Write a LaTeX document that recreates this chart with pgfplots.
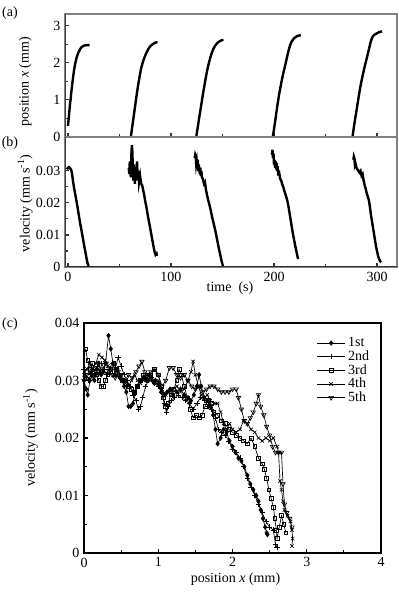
\documentclass[border=0pt]{standalone}
\usepackage{pgfplots}
\pgfplotsset{compat=1.18}
\usepackage{fontspec}
\setmainfont{Liberation Serif}
\begin{document}
\begin{tikzpicture}[font=\fontsize{10.5}{12}\selectfont]
\useasboundingbox (0,0) rectangle (299.25pt,449.25pt);
\pgfplotsset{
  every axis/.append style={
    scale only axis,
    /pgf/number format/assume math mode=true,
    tick label style={font=\fontsize{10.5}{12}\selectfont},
    label style={font=\fontsize{10.5}{12}\selectfont},
    tick align=inside, tick pos=left,
    major tick length=3pt, minor tick length=2.5pt,
  },
  tsstyle/.style={
    axis line style={draw=black!50, line width=1.4pt},
    every tick/.style={black!80, line width=0.8pt},
    xmin=-2.9, xmax=319.4,
    xtick={0,100,200,300}, minor x tick num=1,
  },
}
% ---------------- (a) ----------------
\begin{axis}[tsstyle, at={(48.75pt,346.5pt)}, anchor=south west,
  width=249pt, height=92.25pt,
  ymin=0, ymax=3.32, ytick={0,1,2,3}, minor y tick num=1,
  xticklabels={},
  ylabel={position \textit{x} (mm)},
  ylabel style={at={(axis description cs:-0.12,0.45)}, anchor=center, rotate=0},
]
\draw[black!80, line width=1.2pt] (rel axis cs:0,0) -- (rel axis cs:1,0);
\draw[black!75, line width=1.2pt] (rel axis cs:0,0) -- (rel axis cs:0,1);
\addplot[black, line width=1.8pt, smooth] coordinates {(0,0.3) (0.5,0.45) (1,0.6) (1.5,0.75) (2,0.9) (2.5,1.0) (3,1.15) (4,1.4) (5,1.62) (6,1.82) (7,1.98) (8,2.1) (9,2.2) (10,2.27) (11,2.33) (12,2.38) (13,2.42) (14,2.44) (15,2.46) (16,2.47) (18,2.48) (21,2.48)};
\addplot[black, line width=1.8pt, smooth] coordinates {(61,0) (63,0.4) (65,0.8) (67,1.2) (69,1.55) (71,1.85) (73,2.05) (75,2.2) (77,2.32) (79,2.42) (81,2.48) (83,2.52) (85,2.55) (87,2.56)};
\addplot[black, line width=1.8pt, smooth] coordinates {(124.5,0) (127,0.45) (129,0.8) (131,1.15) (133,1.48) (135,1.78) (137,2.02) (139,2.22) (141,2.37) (143,2.47) (145,2.54) (147,2.58) (149,2.61) (151,2.62)};
\addplot[black, line width=1.8pt, smooth] coordinates {(198.8,0) (201,0.4) (203,0.8) (205,1.15) (207,1.45) (209,1.72) (211,1.95) (213,2.2) (215,2.42) (217,2.57) (219,2.65) (221,2.7) (223,2.73) (226,2.75)};
\addplot[black, line width=1.8pt, smooth] coordinates {(276.2,0) (278,0.35) (280,0.7) (282,1.05) (284,1.38) (286,1.65) (288,1.9) (290,2.12) (292,2.35) (294,2.58) (296,2.72) (298,2.77) (300,2.8) (302,2.83) (305,2.85)};
\end{axis}
% ---------------- (b) ----------------
\begin{axis}[tsstyle, at={(48.75pt,249pt)}, anchor=south west,
  width=249pt, height=97.5pt,
  ymin=0, ymax=0.0406, ytick={0,0.01,0.02,0.03}, minor y tick num=1,
  yticklabel style={/pgf/number format/fixed, /pgf/number format/precision=2},
  scaled y ticks=false,
  ylabel={velocity (mm s\textsuperscript{-1})},
  ylabel style={at={(axis description cs:-0.12,0.49)}, anchor=center},
  xlabel={time\ \ (s)},
  xlabel style={at={(axis description cs:0.497,-0.165)}, anchor=center},
]
\draw[black!80, line width=1.2pt] (rel axis cs:0,0) -- (rel axis cs:1,0);
\draw[black!75, line width=1.2pt] (rel axis cs:0,0) -- (rel axis cs:0,1);
\addplot[black, line width=1.8pt] coordinates {(-1,0.0305) (0,0.031) (1,0.0312) (2,0.0308) (3,0.0305) (4,0.029) (5,0.0265) (6,0.0245) (7,0.0228) (8,0.021) (9,0.0192) (10,0.0172) (11,0.0152) (12,0.0133) (13,0.0117) (14,0.0098) (15,0.008) (16,0.0062) (17,0.0045) (18,0.0027) (19,0.0012) (20,0.0002)};
\addplot[black, line width=1.8pt] coordinates {(59,0.031) (59.5,0.029) (60,0.033) (60.5,0.03) (61,0.028) (61.5,0.035) (62,0.038) (62.5,0.036) (63,0.03) (63.5,0.027) (64,0.032) (64.5,0.029) (65,0.026) (65.5,0.031) (66,0.03) (66.5,0.027) (67,0.033) (67.5,0.029) (68,0.027) (68.5,0.03) (69,0.0265) (70,0.0285) (71,0.026) (72,0.0255) (73,0.024) (74,0.0225) (75,0.0205) (76,0.019) (77,0.017) (78,0.0152) (79,0.0135) (80,0.0118) (81,0.01) (82,0.0082) (83,0.0065) (84,0.0048) (85,0.0038) (86,0.0042) (86.5,0.0035)};
\addplot[black, line width=1.8pt] coordinates {(123,0.034) (123.5,0.035) (124,0.0345) (124.5,0.032) (125,0.033) (125.5,0.031) (126,0.0335) (126.5,0.03) (127,0.032) (127.5,0.0305) (128,0.029) (128.5,0.031) (129,0.0285) (129.5,0.03) (130,0.028) (131,0.0275) (132,0.026) (133,0.0265) (134,0.024) (135,0.0225) (136,0.021) (137,0.0198) (138,0.0185) (139,0.017) (140,0.0155) (141,0.0142) (142,0.0128) (143,0.0114) (144,0.0098) (145,0.0082) (146,0.0066) (147,0.005) (148,0.0035) (149,0.002) (150,0.0008) (150.5,0.0003)};
\addplot[black, line width=1.8pt] coordinates {(198,0.035) (198.5,0.0366) (199,0.034) (199.5,0.0355) (200,0.032) (200.5,0.0335) (201,0.031) (201.5,0.033) (202,0.0305) (202.5,0.0325) (203,0.03) (203.5,0.0315) (204,0.0292) (205,0.0295) (206,0.0275) (207,0.027) (208,0.0258) (209,0.025) (210,0.0238) (211,0.0228) (212,0.0218) (213,0.0206) (214,0.019) (215,0.017) (216,0.015) (217,0.013) (218,0.011) (219,0.0093) (220,0.0076) (221,0.006) (222,0.0045) (223,0.003) (223.5,0.0025)};
\addplot[black, line width=1.8pt] coordinates {(277,0.0335) (277.5,0.0345) (278,0.034) (278.5,0.032) (279,0.0325) (280,0.031) (281,0.0305) (282,0.03) (283,0.0295) (284,0.03) (285,0.0285) (286,0.029) (287,0.027) (288,0.0255) (289,0.0245) (290,0.023) (291,0.022) (292,0.021) (293,0.019) (294,0.0165) (295,0.0145) (296,0.0125) (297,0.0105) (298,0.0085) (299,0.0065) (300,0.005) (301,0.0035) (302,0.0025) (303,0.0018) (304,0.0015)};
\end{axis}
% ---------------- (c) ----------------
\begin{axis}[at={(63pt,34.5pt)}, anchor=south west,
  width=222.75pt, height=172.5pt,
  axis line style={line width=1.2pt},
  every tick/.style={black, line width=0.8pt},
  xmin=0, xmax=4, ymin=0, ymax=0.04,
  xtick={0,1,2,3,4}, minor x tick num=1,
  ytick={0,0.01,0.02,0.03,0.04}, minor y tick num=1,
  yticklabel style={/pgf/number format/fixed, /pgf/number format/precision=2},
  scaled y ticks=false,
  ylabel={velocity (mm s\textsuperscript{-1})},
  ylabel style={at={(axis description cs:-0.18,0.5)}, anchor=center},
  xlabel={position \textit{x} (mm)},
  xlabel style={at={(axis description cs:0.51,-0.112)}, anchor=center},
  legend style={draw=none, fill=none, at={(0.97,0.95)}, anchor=north east,
    font=\fontsize{10.5}{10}\selectfont, row sep=-2.5pt, inner sep=0pt},
  legend cell align=left,
  legend image code/.code={\draw[#1, mark repeat=2, mark phase=2] plot coordinates {(0cm,0cm) (0.37cm,0cm) (0.74cm,0cm)};},
  every axis plot/.append style={black, line width=0.5pt},
]
\addplot[mark=diamond*, mark size=1.7pt] coordinates {(0.00,0.0300) (0.03,0.0285) (0.05,0.0275) (0.08,0.0300) (0.11,0.0310) (0.14,0.0300) (0.17,0.0320) (0.20,0.0330) (0.23,0.0310) (0.26,0.0315) (0.29,0.0330) (0.33,0.0378) (0.36,0.0355) (0.39,0.0330) (0.42,0.0310) (0.45,0.0320) (0.48,0.0305) (0.51,0.0300) (0.54,0.0290) (0.57,0.0280) (0.60,0.0255) (0.63,0.0255) (0.66,0.0260) (0.69,0.0280) (0.72,0.0290) (0.76,0.0300) (0.80,0.0305) (0.84,0.0300) (0.88,0.0310) (0.92,0.0300) (0.96,0.0300) (1.00,0.0295) (1.04,0.0280) (1.08,0.0275) (1.12,0.0280) (1.16,0.0285) (1.20,0.0275) (1.25,0.0280) (1.30,0.0285) (1.35,0.0275) (1.40,0.0270) (1.44,0.0265) (1.48,0.0275) (1.52,0.0290) (1.55,0.0310) (1.58,0.0290) (1.62,0.0270) (1.66,0.0265) (1.70,0.0255) (1.74,0.0240) (1.77,0.0215) (1.80,0.0190) (1.84,0.0200) (1.88,0.0215) (1.92,0.0210) (1.96,0.0195) (2.00,0.0185) (2.04,0.0175) (2.08,0.0165) (2.12,0.0160) (2.16,0.0150) (2.20,0.0135) (2.24,0.0120) (2.28,0.0110) (2.32,0.0100) (2.35,0.0090) (2.38,0.0075) (2.41,0.0060) (2.44,0.0045) (2.46,0.0035) (2.47,0.0032)};
\addlegendentry{1st}
\addplot[mark=+, mark size=2pt] coordinates {(0.00,0.0320) (0.03,0.0305) (0.06,0.0300) (0.09,0.0310) (0.12,0.0320) (0.15,0.0310) (0.18,0.0325) (0.21,0.0315) (0.24,0.0330) (0.27,0.0320) (0.30,0.0310) (0.34,0.0320) (0.38,0.0330) (0.42,0.0320) (0.46,0.0340) (0.50,0.0325) (0.54,0.0310) (0.58,0.0300) (0.62,0.0290) (0.66,0.0275) (0.70,0.0265) (0.73,0.0250) (0.76,0.0255) (0.79,0.0270) (0.83,0.0290) (0.87,0.0300) (0.91,0.0305) (0.95,0.0295) (1.00,0.0290) (1.04,0.0280) (1.08,0.0260) (1.11,0.0245) (1.14,0.0255) (1.18,0.0265) (1.22,0.0270) (1.27,0.0275) (1.32,0.0270) (1.37,0.0265) (1.42,0.0260) (1.47,0.0250) (1.52,0.0260) (1.57,0.0270) (1.62,0.0265) (1.67,0.0255) (1.72,0.0250) (1.77,0.0235) (1.81,0.0215) (1.85,0.0210) (1.90,0.0205) (1.95,0.0195) (2.00,0.0180) (2.05,0.0175) (2.10,0.0165) (2.15,0.0150) (2.20,0.0130) (2.25,0.0115) (2.30,0.0100) (2.35,0.0085) (2.40,0.0070) (2.45,0.0055) (2.50,0.0045) (2.55,0.0040) (2.58,0.0015) (2.60,0.0010)};
\addlegendentry{2nd}
\addplot[mark=square, mark size=1.4pt] coordinates {(0.02,0.0355) (0.05,0.0335) (0.08,0.0320) (0.11,0.0330) (0.14,0.0315) (0.17,0.0310) (0.20,0.0300) (0.23,0.0290) (0.26,0.0290) (0.29,0.0300) (0.32,0.0310) (0.36,0.0320) (0.40,0.0330) (0.44,0.0320) (0.48,0.0310) (0.52,0.0300) (0.56,0.0295) (0.60,0.0290) (0.64,0.0285) (0.68,0.0280) (0.72,0.0290) (0.76,0.0300) (0.80,0.0310) (0.85,0.0305) (0.90,0.0310) (0.95,0.0320) (1.00,0.0310) (1.04,0.0290) (1.07,0.0270) (1.10,0.0255) (1.13,0.0260) (1.17,0.0275) (1.21,0.0285) (1.25,0.0300) (1.28,0.0320) (1.31,0.0310) (1.35,0.0290) (1.39,0.0270) (1.43,0.0250) (1.47,0.0235) (1.51,0.0240) (1.55,0.0235) (1.59,0.0240) (1.63,0.0255) (1.67,0.0265) (1.71,0.0260) (1.75,0.0245) (1.80,0.0240) (1.85,0.0230) (1.90,0.0225) (1.95,0.0215) (2.00,0.0210) (2.05,0.0205) (2.10,0.0200) (2.15,0.0195) (2.20,0.0190) (2.25,0.0200) (2.30,0.0185) (2.35,0.0165) (2.40,0.0155) (2.43,0.0145) (2.46,0.0130) (2.49,0.0110) (2.52,0.0095) (2.55,0.0080) (2.57,0.0060) (2.59,0.0040) (2.60,0.0025) (2.63,0.0045) (2.66,0.0065) (2.69,0.0050) (2.72,0.0035)};
\addlegendentry{3rd}
\addplot[mark=x, mark size=1.8pt] coordinates {(0.00,0.0310) (0.04,0.0320) (0.08,0.0330) (0.12,0.0320) (0.16,0.0330) (0.20,0.0345) (0.24,0.0340) (0.28,0.0335) (0.32,0.0325) (0.36,0.0320) (0.40,0.0310) (0.44,0.0320) (0.48,0.0310) (0.52,0.0300) (0.56,0.0295) (0.60,0.0290) (0.64,0.0300) (0.68,0.0310) (0.72,0.0300) (0.76,0.0295) (0.80,0.0300) (0.85,0.0305) (0.90,0.0300) (0.95,0.0295) (1.00,0.0300) (1.05,0.0285) (1.10,0.0275) (1.15,0.0280) (1.20,0.0285) (1.25,0.0290) (1.30,0.0280) (1.35,0.0285) (1.40,0.0300) (1.44,0.0315) (1.47,0.0333) (1.50,0.0310) (1.54,0.0290) (1.58,0.0275) (1.62,0.0270) (1.66,0.0275) (1.70,0.0265) (1.75,0.0260) (1.80,0.0260) (1.84,0.0245) (1.88,0.0225) (1.92,0.0215) (1.96,0.0225) (2.00,0.0215) (2.05,0.0210) (2.10,0.0215) (2.15,0.0230) (2.20,0.0225) (2.25,0.0215) (2.30,0.0210) (2.35,0.0200) (2.40,0.0195) (2.45,0.0200) (2.50,0.0195) (2.55,0.0200) (2.60,0.0185) (2.62,0.0175) (2.64,0.0125) (2.66,0.0110) (2.68,0.0090) (2.70,0.0075) (2.74,0.0065) (2.78,0.0055) (2.80,0.0040) (2.81,0.0025) (2.80,0.0012)};
\addlegendentry{4th}
\addplot[mark=triangle, mark size=1.9pt, mark options={rotate=180}] coordinates {(0.00,0.0300) (0.04,0.0310) (0.08,0.0315) (0.12,0.0305) (0.16,0.0310) (0.20,0.0315) (0.25,0.0320) (0.30,0.0330) (0.34,0.0315) (0.38,0.0310) (0.42,0.0305) (0.46,0.0315) (0.50,0.0310) (0.55,0.0300) (0.60,0.0310) (0.65,0.0305) (0.70,0.0315) (0.74,0.0325) (0.78,0.0333) (0.82,0.0315) (0.86,0.0310) (0.90,0.0315) (0.95,0.0320) (1.00,0.0310) (1.05,0.0290) (1.10,0.0300) (1.15,0.0322) (1.20,0.0322) (1.25,0.0310) (1.30,0.0305) (1.35,0.0310) (1.40,0.0300) (1.45,0.0290) (1.50,0.0285) (1.55,0.0290) (1.60,0.0280) (1.65,0.0285) (1.70,0.0290) (1.75,0.0290) (1.80,0.0285) (1.85,0.0280) (1.90,0.0280) (1.95,0.0280) (2.00,0.0285) (2.05,0.0285) (2.08,0.0270) (2.12,0.0250) (2.16,0.0230) (2.20,0.0225) (2.24,0.0235) (2.28,0.0245) (2.32,0.0260) (2.35,0.0275) (2.38,0.0255) (2.42,0.0240) (2.46,0.0220) (2.50,0.0205) (2.54,0.0185) (2.58,0.0175) (2.62,0.0175) (2.66,0.0175) (2.68,0.0120) (2.70,0.0085) (2.73,0.0070) (2.77,0.0060) (2.80,0.0045)};
\addlegendentry{5th}
\end{axis}
% panel letters
\node at (7.5pt,439.5pt) {(a)};
\node at (7.5pt,342pt) {(b)};
\node at (7.5pt,206.25pt) {(c)};
\end{tikzpicture}
\end{document}
